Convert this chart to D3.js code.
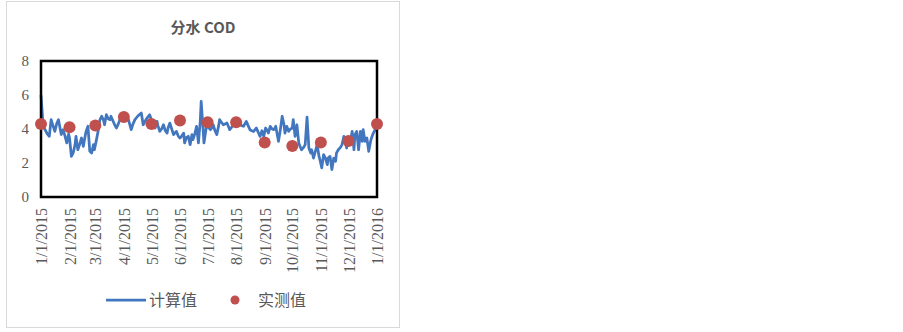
<!DOCTYPE html>
<html>
<head>
<meta charset="utf-8">
<script src="https://cdn.jsdelivr.net/npm/d3@7"></script>
<style>
  body { margin: 0; background: #fff; }
  svg text { fill: #595959; }
</style>
</head>
<body>
<div id="chart"></div>
<script>
// 计算值: day offset from 1/1/2015 and value
const calcDays = [0, 2, 4, 7, 9, 11, 13, 15, 17, 19, 22, 24, 26, 28, 30, 31, 33, 35, 37, 38,
  40, 42, 44, 46, 48, 49, 51, 53, 55, 57, 58, 60, 62, 64, 66, 68, 69, 71, 73, 75,
  76, 78, 80, 82, 84, 85, 87, 89, 92, 95, 98, 100, 102, 105, 107, 109, 111, 113, 114, 116,
  118, 120, 122, 124, 126, 127, 129, 131, 133, 135, 137, 138, 140, 142, 144, 146, 147, 149, 151, 153,
  155, 156, 158, 160, 162, 164, 165, 167, 169, 171, 173, 174, 176, 177, 180, 182, 184, 186, 187, 189,
  191, 193, 194, 196, 198, 200, 202, 204, 205, 207, 209, 211, 212, 214, 216, 218, 220, 222, 223, 225,
  227, 229, 231, 233, 234, 236, 238, 240, 242, 244, 246, 247, 249, 251, 253, 255, 256, 258, 260, 262,
  264, 265, 267, 269, 271, 273, 274, 276, 278, 280, 282, 283, 285, 287, 289, 291, 293, 294, 296, 298,
  300, 302, 303, 305, 307, 309, 311, 312, 314, 316, 318, 320, 321, 323, 325, 327, 329, 331, 332, 334,
  336, 338, 340, 341, 343, 345, 347, 349, 350, 352, 354, 356, 358, 359, 361, 363, 365];
const calcValues = [6.0, 4.45, 4.0, 3.7, 3.57, 4.55, 4.2, 3.86, 4.3, 4.55, 3.67, 3.96, 3.6, 3.18, 3.7, 3.47, 2.39, 2.6, 3.08, 3.57,
  2.78, 3.1, 3.47, 2.98, 3.6, 3.86, 4.16, 2.69, 2.59, 3.08, 2.78, 3.3, 3.86, 4.55, 4.75, 4.5, 4.25, 4.84, 4.6, 4.55,
  4.75, 4.5, 4.25, 4.06, 4.3, 4.45, 4.7, 4.84, 4.7, 4.55, 3.96, 4.3, 4.55, 4.75, 4.85, 4.94, 4.25, 4.45, 4.55, 4.7,
  4.84, 4.55, 4.3, 4.06, 4.45, 4.2, 3.86, 4.0, 4.25, 3.9, 3.76, 4.06, 4.35, 4.0, 3.67, 3.8, 3.86, 3.6, 3.47, 3.6,
  3.76, 3.18, 3.5, 3.57, 3.08, 3.67, 3.37, 3.7, 4.16, 3.18, 4.45, 5.63, 4.06, 3.18, 4.25, 4.1, 3.96, 4.1, 4.25, 3.9,
  3.67, 4.2, 4.55, 4.4, 4.25, 4.3, 4.35, 4.1, 3.96, 4.1, 4.25, 4.3, 4.35, 4.3, 4.25, 4.2, 4.16, 4.35, 4.45, 4.2,
  3.96, 3.9, 3.86, 4.0, 4.06, 3.8, 3.57, 3.9, 3.57, 4.06, 3.9, 3.76, 4.16, 4.0, 3.96, 4.16, 3.86, 3.27, 3.96, 4.75,
  4.25, 3.76, 4.16, 3.86, 4.0, 4.06, 4.55, 3.57, 4.25, 3.18, 2.9, 2.78, 2.9, 3.08, 4.7, 2.88, 2.59, 2.78, 2.29, 2.69,
  3.08, 2.39, 2.2, 1.71, 2.49, 2.29, 1.9, 2.29, 2.39, 1.61, 2.29, 2.1, 2.59, 2.78, 2.9, 3.08, 3.57, 3.18, 2.88, 3.47,
  3.27, 3.86, 2.78, 3.67, 3.86, 2.78, 3.86, 3.27, 3.96, 3.27, 3.47, 2.69, 3.27, 3.47, 3.76, 3.96, 4.25];

// 实测值: first day of each month
const measMonths = [0, 1, 2, 3, 4, 5, 6, 7, 8, 9, 10, 11, 12];
const measValues = [4.3, 4.1, 4.2, 4.7, 4.3, 4.5, 4.4, 4.4, 3.2, 3.0, 3.2, 3.3, 4.3];

const yTicks = [0, 2, 4, 6, 8];
const title = '分水 COD';
const legendNames = ['计算值', '实测值'];

const start = new Date(Date.UTC(2015, 0, 1));
const end = new Date(Date.UTC(2016, 0, 1));

const calcData = calcDays.map((d, i) => ({date: d3.utcDay.offset(start, d), value: calcValues[i]}));
const measData = measMonths.map((m, i) => ({date: d3.utcMonth.offset(start, m), value: measValues[i]}));

const W = 903, H = 332;
const margin = {top: 61, left: 41, right: 526, bottom: 135};
const width = W - margin.left - margin.right;
const height = H - margin.top - margin.bottom;

const svg = d3.select('#chart').append('svg')
    .attr('width', W)
    .attr('height', H);

// outer chart frame
svg.append('rect')
    .attr('x', 6.5).attr('y', 1.5)
    .attr('width', 393).attr('height', 326)
    .attr('fill', '#fff')
    .attr('stroke', '#d9d9d9');

svg.append('text')
    .attr('x', 203).attr('y', 33)
    .attr('text-anchor', 'middle')
    .style('font-family', '"Noto Sans CJK SC", "Noto Sans", sans-serif')
    .style('font-size', '15px')
    .style('font-weight', '600')
    .text(title);

const chart = svg.append('g')
    .attr('transform', `translate(${margin.left}, ${margin.top})`);

const xScale = d3.scaleUtc().domain([start, end]).range([0, width]);
const yScale = d3.scaleLinear().domain([0, 8]).range([height, 0]);

const xAxis = d3.axisBottom(xScale)
    .tickValues(measData.map(d => d.date))
    .tickFormat(d3.utcFormat('%-m/%-d/%Y'))
    .tickSize(0);
const yAxis = d3.axisLeft(yScale)
    .tickValues(yTicks)
    .tickSize(0);

const xAxisGroup = chart.append('g')
    .attr('transform', `translate(0, ${height})`)
    .call(xAxis);
xAxisGroup.select('.domain').remove();
xAxisGroup.selectAll('text')
    .attr('transform', 'rotate(-90)')
    .attr('x', -11)
    .attr('y', 0)
    .attr('dy', '0.35em')
    .attr('text-anchor', 'end')
    .style('font-family', '"Liberation Serif", serif')
    .style('font-size', '16px')
    .style('fill', '#595959');

const yAxisGroup = chart.append('g').call(yAxis);
yAxisGroup.select('.domain').remove();
yAxisGroup.selectAll('text')
    .attr('x', -12)
    .style('font-family', '"Liberation Serif", serif')
    .style('font-size', '15px')
    .style('fill', '#595959');

const line = d3.line()
    .x(d => xScale(d.date))
    .y(d => yScale(d.value));

chart.append('path')
    .datum(calcData)
    .attr('d', line)
    .attr('fill', 'none')
    .attr('stroke', '#4277bf')
    .attr('stroke-width', 2.75)
    .attr('stroke-linejoin', 'round');

// plot area frame
chart.append('rect')
    .attr('x', 0).attr('y', 0)
    .attr('width', width).attr('height', height)
    .attr('fill', 'none')
    .attr('stroke', '#000')
    .attr('stroke-width', 2.5);

chart.selectAll('.meas')
    .data(measData)
    .join('circle')
    .attr('class', 'meas')
    .attr('cx', d => xScale(d.date))
    .attr('cy', d => yScale(d.value))
    .attr('r', 6)
    .attr('fill', '#c0504d');

// legend
const legend = svg.append('g')
    .style('font-family', '"Noto Sans CJK SC", sans-serif')
    .style('font-size', '16px');
legend.append('line')
    .attr('x1', 106).attr('x2', 146)
    .attr('y1', 300).attr('y2', 300)
    .attr('stroke', '#4277bf')
    .attr('stroke-width', 2.75);
legend.append('text')
    .attr('x', 149).attr('y', 300)
    .attr('dy', '0.35em')
    .text(legendNames[0]);
legend.append('circle')
    .attr('cx', 235).attr('cy', 300)
    .attr('r', 4.5)
    .attr('fill', '#c0504d');
legend.append('text')
    .attr('x', 258).attr('y', 300)
    .attr('dy', '0.35em')
    .text(legendNames[1]);
</script>
</body>
</html>
